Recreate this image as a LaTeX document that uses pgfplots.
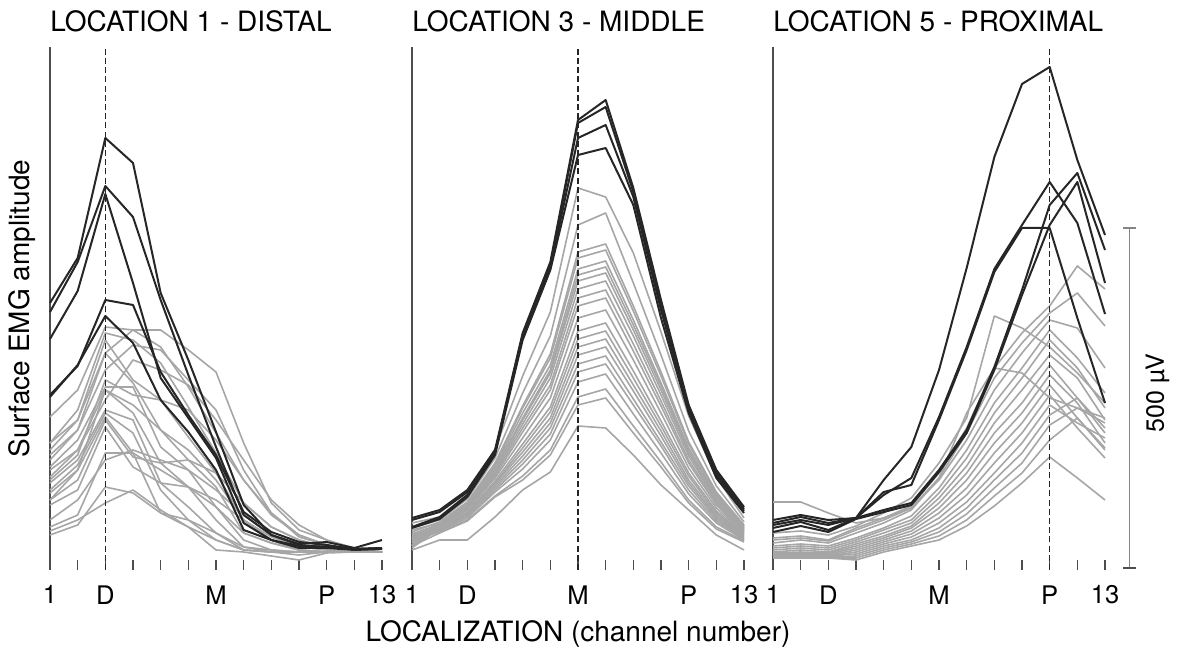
\documentclass[border=0pt]{standalone}
\usepackage{fontspec}
\setmainfont{TeX Gyre Heros}
\usepackage{pgfplots}
\pgfplotsset{compat=1.18}
\definecolor{blk}{HTML}{262626}
\definecolor{gry}{HTML}{A6A6A6}
\definecolor{axc}{HTML}{4D4D4D}
\definecolor{barc}{HTML}{858585}
\tikzset{
  gl/.style={gry, line width=0.8pt, line join=round},
  bl/.style={blk, line width=1pt, line join=round},
  dl/.style={blk, line width=0.8pt, dash pattern=on 3pt off 1.6pt},
}
\pgfplotsset{
  emg/.style={
    scale only axis, width=166pt, height=261.5pt,
    xmin=1, xmax=13, ymin=-2, ymax=521,
    axis x line*=bottom, axis y line*=left,
    x axis line style={draw=none},
    y axis line style={draw=axc, line width=0.75pt},
    xtick={1,3,7,11,13},
    xticklabels={\mbox{1},\mbox{D},\mbox{M},\mbox{P},\mbox{13}},
    minor xtick={2,4,5,6,8,9,10,12},
    ytick=\empty,
    tick align=inside,
    major tick length=4.75pt, minor tick length=4.75pt,
    every tick/.style={draw=axc, line width=0.6pt},
    xticklabel style={font=\fontsize{12.8}{14}\selectfont, inner sep=0pt, anchor=north, yshift=-7.5pt},
    title style={at={(axis description cs:0,1)}, anchor=base west, inner sep=0pt, yshift=1.5pt, font=\fontsize{14}{16}\selectfont},
    clip=false,
  },
}
\begin{document}
\begin{tikzpicture}
\useasboundingbox (-25pt,-40.5pt) rectangle (566pt,285pt);
% ---------------- Location 1 ----------------
\begin{axis}[emg, at={(0pt,0pt)}, anchor=south west,
  title={LOCATION 1 - DISTAL},
  ylabel={Surface EMG amplitude},
  ylabel style={at={(axis description cs:-0.042,0.5)}, anchor=south, inner sep=0pt, font=\fontsize{14}{16}\selectfont}]
\addplot[gl] coordinates {(1,125)(2,148)(3,215)(4,238)(5,238)(6,218)(7,196)(8,125)(9,65)(10,38)(11,28)(12,18)(13,16)};
\addplot[gl] coordinates {(1,151)(2,178)(3,241)(4,238)(5,221)(6,181)(7,135)(8,88)(9,55)(10,31)(11,23)(12,18)(13,16)};
\addplot[gl] coordinates {(1,125)(2,158)(3,235)(4,228)(5,205)(6,161)(7,115)(8,65)(9,41)(10,28)(11,21)(12,18)(13,16)};
\addplot[gl] coordinates {(1,118)(2,148)(3,228)(4,188)(5,168)(6,131)(7,95)(8,48)(9,31)(10,21)(11,18)(12,16)(13,16)};
\addplot[gl] coordinates {(1,108)(2,138)(3,215)(4,185)(5,138)(6,108)(7,81)(8,35)(9,25)(10,18)(11,16)(12,16)(13,16)};
\addplot[gl] coordinates {(1,101)(2,128)(3,181)(4,181)(5,121)(6,98)(7,61)(8,28)(9,18)(10,16)(11,16)(12,16)(13,16)};
\addplot[gl] coordinates {(1,91)(2,118)(3,178)(4,155)(5,105)(6,81)(7,48)(8,21)(9,18)(10,16)(11,16)(12,16)(13,16)};
\addplot[gl] coordinates {(1,85)(2,108)(3,158)(4,148)(5,85)(6,61)(7,35)(8,18)(9,16)(10,16)(11,16)(12,16)(13,16)};
\addplot[gl] coordinates {(1,78)(2,103)(3,155)(4,135)(5,78)(6,48)(7,28)(8,18)(9,16)(10,13)(11,16)(12,16)(13,16)};
\addplot[gl] coordinates {(1,75)(2,98)(3,151)(4,115)(5,55)(6,41)(7,18)(8,16)(9,12)(10,8)(11,15)(12,16)(13,16)};
\addplot[gl] coordinates {(1,68)(2,88)(3,148)(4,111)(5,105)(6,108)(7,95)(8,65)(9,41)(10,28)(11,21)(12,18)(13,16)};
\addplot[gl] coordinates {(1,63)(2,78)(3,141)(4,101)(5,85)(6,81)(7,61)(8,35)(9,25)(10,18)(11,16)(12,16)(13,16)};
\addplot[gl] coordinates {(1,41)(2,53)(3,115)(4,115)(5,98)(6,81)(7,68)(8,48)(9,28)(10,18)(11,16)(12,16)(13,16)};
\addplot[gl] coordinates {(1,33)(2,43)(3,81)(4,75)(5,55)(6,48)(7,35)(8,21)(9,16)(10,16)(11,16)(12,16)(13,16)};
\addplot[gl] coordinates {(1,37)(2,48)(3,65)(4,78)(5,58)(6,41)(7,28)(8,18)(9,16)(10,16)(11,16)(12,16)(13,16)};
\addplot[gl] coordinates {(1,98)(2,118)(3,168)(4,208)(5,198)(6,183)(7,148)(8,108)(9,68)(10,43)(11,28)(12,20)(13,16)};
\addplot[gl] coordinates {(1,113)(2,138)(3,198)(4,223)(5,218)(6,188)(7,158)(8,98)(9,55)(10,33)(11,23)(12,18)(13,16)};
\addplot[gl] coordinates {(1,88)(2,113)(3,188)(4,173)(5,168)(6,158)(7,128)(8,88)(9,53)(10,33)(11,23)(12,18)(13,16)};
\addplot[gl] coordinates {(1,68)(2,98)(3,178)(4,163)(5,138)(6,118)(7,88)(8,48)(9,28)(10,18)(11,16)(12,16)(13,16)};
\addplot[gl] coordinates {(1,48)(2,68)(3,108)(4,118)(5,108)(6,98)(7,78)(8,53)(9,33)(10,23)(11,18)(12,16)(13,16)};
\addplot[bl] coordinates {(1,265)(2,310)(3,430)(4,405)(5,275)(6,208)(7,136)(8,63)(9,33)(10,23)(11,21)(12,19)(13,19)};
\addplot[bl] coordinates {(1,256)(2,306)(3,382)(4,351)(5,268)(6,193)(7,121)(8,53)(9,33)(10,24)(11,26)(12,20)(13,28)};
\addplot[bl] coordinates {(1,229)(2,277)(3,374)(4,285)(5,190)(6,150)(7,110)(8,45)(9,28)(10,22)(11,21)(12,19)(13,20)};
\addplot[bl] coordinates {(1,173)(2,202)(3,268)(4,263)(5,196)(6,153)(7,113)(8,56)(9,36)(10,26)(11,23)(12,19)(13,20)};
\addplot[bl] coordinates {(1,171)(2,203)(3,252)(4,225)(5,168)(6,136)(7,98)(8,38)(9,28)(10,20)(11,20)(12,18)(13,19)};
\draw[dl] (axis cs:3,-2) -- (axis cs:3,521);
\end{axis}
% ---------------- Location 3 ----------------
\begin{axis}[emg, at={(181pt,0pt)}, anchor=south west,
  title={LOCATION 3 - MIDDLE},
  xlabel={LOCALIZATION (channel number)},
  xlabel style={at={(axis description cs:0.5,-0.0956)}, anchor=north, inner sep=0pt, font=\fontsize{14}{16}\selectfont}]
\addplot[gl] coordinates {(1,45)(2,51)(3,74)(4,119)(5,192)(6,256)(7,380)(8,371)(9,315)(10,236)(11,152)(12,91)(13,50)};
\addplot[gl] coordinates {(1,40)(2,48)(3,69)(4,110)(5,175)(6,232)(7,343)(8,355)(9,285)(10,213)(11,137)(12,82)(13,46)};
\addplot[gl] coordinates {(1,36)(2,46)(3,66)(4,105)(5,162)(6,214)(7,316)(8,324)(9,262)(10,196)(11,126)(12,76)(13,43)};
\addplot[gl] coordinates {(1,30)(2,45)(3,65)(4,103)(5,160)(6,210)(7,310)(8,318)(9,257)(10,192)(11,124)(12,74)(13,42)};
\addplot[gl] coordinates {(1,38)(2,45)(3,64)(4,101)(5,155)(6,203)(7,299)(8,307)(9,248)(10,185)(11,120)(12,72)(13,41)};
\addplot[gl] coordinates {(1,26)(2,44)(3,62)(4,99)(5,150)(6,198)(7,293)(8,301)(9,243)(10,182)(11,117)(12,70)(13,40)};
\addplot[gl] coordinates {(1,34)(2,44)(3,62)(4,98)(5,148)(6,195)(7,287)(8,295)(9,238)(10,178)(11,115)(12,69)(13,39)};
\addplot[gl] coordinates {(1,22)(2,43)(3,61)(4,96)(5,144)(6,190)(7,279)(8,287)(9,232)(10,173)(11,112)(12,67)(13,38)};
\addplot[gl] coordinates {(1,33)(2,43)(3,60)(4,94)(5,140)(6,183)(7,270)(8,278)(9,224)(10,167)(11,108)(12,65)(13,37)};
\addplot[gl] coordinates {(1,28)(2,42)(3,59)(4,92)(5,136)(6,178)(7,262)(8,270)(9,217)(10,162)(11,105)(12,63)(13,36)};
\addplot[gl] coordinates {(1,32)(2,41)(3,58)(4,90)(5,130)(6,170)(7,250)(8,258)(9,208)(10,155)(11,100)(12,60)(13,35)};
\addplot[gl] coordinates {(1,20)(2,40)(3,56)(4,87)(5,124)(6,161)(7,237)(8,245)(9,197)(10,147)(11,95)(12,57)(13,34)};
\addplot[gl] coordinates {(1,31)(2,40)(3,55)(4,85)(5,120)(6,156)(7,229)(8,237)(9,190)(10,142)(11,92)(12,55)(13,33)};
\addplot[gl] coordinates {(1,25)(2,39)(3,54)(4,84)(5,116)(6,150)(7,221)(8,229)(9,183)(10,137)(11,88)(12,53)(13,32)};
\addplot[gl] coordinates {(1,30)(2,39)(3,54)(4,82)(5,112)(6,145)(7,213)(8,221)(9,177)(10,132)(11,85)(12,51)(13,31)};
\addplot[gl] coordinates {(1,23)(2,38)(3,52)(4,80)(5,108)(6,140)(7,204)(8,212)(9,169)(10,126)(11,82)(12,49)(13,30)};
\addplot[gl] coordinates {(1,30)(2,38)(3,52)(4,78)(5,104)(6,134)(7,196)(8,204)(9,163)(10,122)(11,78)(12,47)(13,29)};
\addplot[gl] coordinates {(1,29)(2,37)(3,50)(4,76)(5,99)(6,128)(7,186)(8,194)(9,154)(10,115)(11,74)(12,45)(13,28)};
\addplot[gl] coordinates {(1,28)(2,36)(3,48)(4,72)(5,92)(6,118)(7,171)(8,179)(9,142)(10,106)(11,68)(12,41)(13,27)};
\addplot[gl] coordinates {(1,22)(2,35)(3,47)(4,71)(5,88)(6,113)(7,163)(8,170)(9,135)(10,101)(11,65)(12,39)(13,26)};
\addplot[gl] coordinates {(1,18)(2,28)(3,28)(4,51)(5,78)(6,96)(7,142)(8,140)(9,113)(10,83)(11,58)(12,33)(13,18)};
\addplot[bl] coordinates {(1,50)(2,58)(3,78)(4,118)(5,235)(6,306)(7,448)(8,468)(9,380)(10,268)(11,163)(12,98)(13,61)};
\addplot[bl] coordinates {(1,48)(2,56)(3,76)(4,116)(5,233)(6,303)(7,445)(8,461)(9,376)(10,263)(11,160)(12,96)(13,59)};
\addplot[bl] coordinates {(1,41)(2,51)(3,73)(4,115)(5,231)(6,300)(7,430)(8,443)(9,371)(10,258)(11,158)(12,93)(13,57)};
\addplot[bl] coordinates {(1,40)(2,49)(3,71)(4,113)(5,228)(6,298)(7,413)(8,420)(9,363)(10,250)(11,155)(12,90)(13,55)};
\draw[dl] (axis cs:7,-2) -- (axis cs:7,521);
\end{axis}
% ---------------- Location 5 ----------------
\begin{axis}[emg, at={(361.5pt,0pt)}, anchor=south west,
  title={LOCATION 5 - PROXIMAL}]
\addplot[gl] coordinates {(1,30)(2,32)(3,28)(4,40)(5,50)(6,62)(7,95)(8,140)(9,200)(10,235)(11,262)(12,302)(13,279)};
\addplot[gl] coordinates {(1,25)(2,28)(3,25)(4,35)(5,45)(6,58)(7,90)(8,135)(9,190)(10,225)(11,255)(12,275)(13,242)};
\addplot[gl] coordinates {(1,35)(2,37)(3,33)(4,42)(5,55)(6,70)(7,105)(8,150)(9,252)(10,240)(11,221)(12,195)(13,165)};
\addplot[gl] coordinates {(1,28)(2,30)(3,27)(4,38)(5,48)(6,60)(7,88)(8,128)(9,178)(10,215)(11,248)(12,240)(13,200)};
\addplot[gl] coordinates {(1,22)(2,24)(3,22)(4,30)(5,40)(6,52)(7,80)(8,118)(9,165)(10,200)(11,238)(12,210)(13,175)};
\addplot[gl] coordinates {(1,20)(2,22)(3,20)(4,28)(5,38)(6,48)(7,75)(8,110)(9,155)(10,190)(11,228)(12,200)(13,160)};
\addplot[gl] coordinates {(1,18)(2,20)(3,18)(4,26)(5,35)(6,45)(7,70)(8,102)(9,145)(10,178)(11,213)(12,190)(13,148)};
\addplot[gl] coordinates {(1,16)(2,18)(3,16)(4,24)(5,32)(6,42)(7,65)(8,95)(9,135)(10,165)(11,203)(12,170)(13,135)};
\addplot[gl] coordinates {(1,15)(2,16)(3,15)(4,22)(5,30)(6,40)(7,60)(8,88)(9,125)(10,155)(11,193)(12,165)(13,125)};
\addplot[gl] coordinates {(1,14)(2,15)(3,14)(4,20)(5,28)(6,37)(7,55)(8,80)(9,115)(10,145)(11,183)(12,150)(13,118)};
\addplot[gl] coordinates {(1,13)(2,14)(3,13)(4,18)(5,26)(6,34)(7,50)(8,73)(9,105)(10,135)(11,173)(12,140)(13,110)};
\addplot[gl] coordinates {(1,12)(2,13)(3,12)(4,16)(5,24)(6,31)(7,45)(8,66)(9,95)(10,125)(11,163)(12,145)(13,130)};
\addplot[gl] coordinates {(1,12)(2,12)(3,12)(4,14)(5,22)(6,28)(7,40)(8,60)(9,88)(10,115)(11,153)(12,170)(13,140)};
\addplot[gl] coordinates {(1,11)(2,11)(3,11)(4,12)(5,20)(6,26)(7,36)(8,54)(9,80)(10,105)(11,143)(12,160)(13,145)};
\addplot[gl] coordinates {(1,10)(2,10)(3,10)(4,10)(5,18)(6,24)(7,32)(8,48)(9,72)(10,95)(11,128)(12,150)(13,120)};
\addplot[gl] coordinates {(1,10)(2,10)(3,10)(4,8)(5,16)(6,22)(7,28)(8,42)(9,62)(10,85)(11,111)(12,90)(13,68)};
\addplot[gl] coordinates {(1,66)(2,66)(3,55)(4,45)(5,50)(6,60)(7,90)(8,155)(9,200)(10,195)(11,170)(12,160)(13,150)};
\addplot[bl] coordinates {(1,45)(2,51)(3,45)(4,50)(5,88)(6,121)(7,198)(8,300)(9,411)(10,484)(11,501)(12,408)(13,333)};
\addplot[bl] coordinates {(1,48)(2,53)(3,48)(4,50)(5,73)(6,90)(7,151)(8,221)(9,299)(10,343)(11,386)(12,345)(13,254)};
\addplot[bl] coordinates {(1,43)(2,48)(3,43)(4,50)(5,76)(6,83)(7,148)(8,218)(9,296)(10,340)(11,340)(12,250)(13,165)};
\addplot[bl] coordinates {(1,40)(2,46)(3,38)(4,50)(5,58)(6,65)(7,98)(8,138)(9,201)(10,278)(11,363)(12,395)(13,318)};
\addplot[bl] coordinates {(1,36)(2,42)(3,36)(4,49)(5,56)(6,63)(7,96)(8,135)(9,198)(10,273)(11,343)(12,386)(13,285)};
\draw[dl] (axis cs:11,-2) -- (axis cs:11,521);
% scale bar: 340 units = 500 microvolts
\draw[barc, line width=0.8pt] (axis cs:13.88,0) -- (axis cs:13.88,340);
\draw[barc, line width=0.8pt] (axis cs:13.66,340) -- (axis cs:14.12,340);
\draw[axc, line width=1.3pt] (axis cs:13.66,0) -- (axis cs:14.12,0);
\node[rotate=90, inner sep=0pt, font=\fontsize{12.5}{14}\selectfont] at (axis cs:14.9,175) {500 µV};
\end{axis}
\end{tikzpicture}
\end{document}
